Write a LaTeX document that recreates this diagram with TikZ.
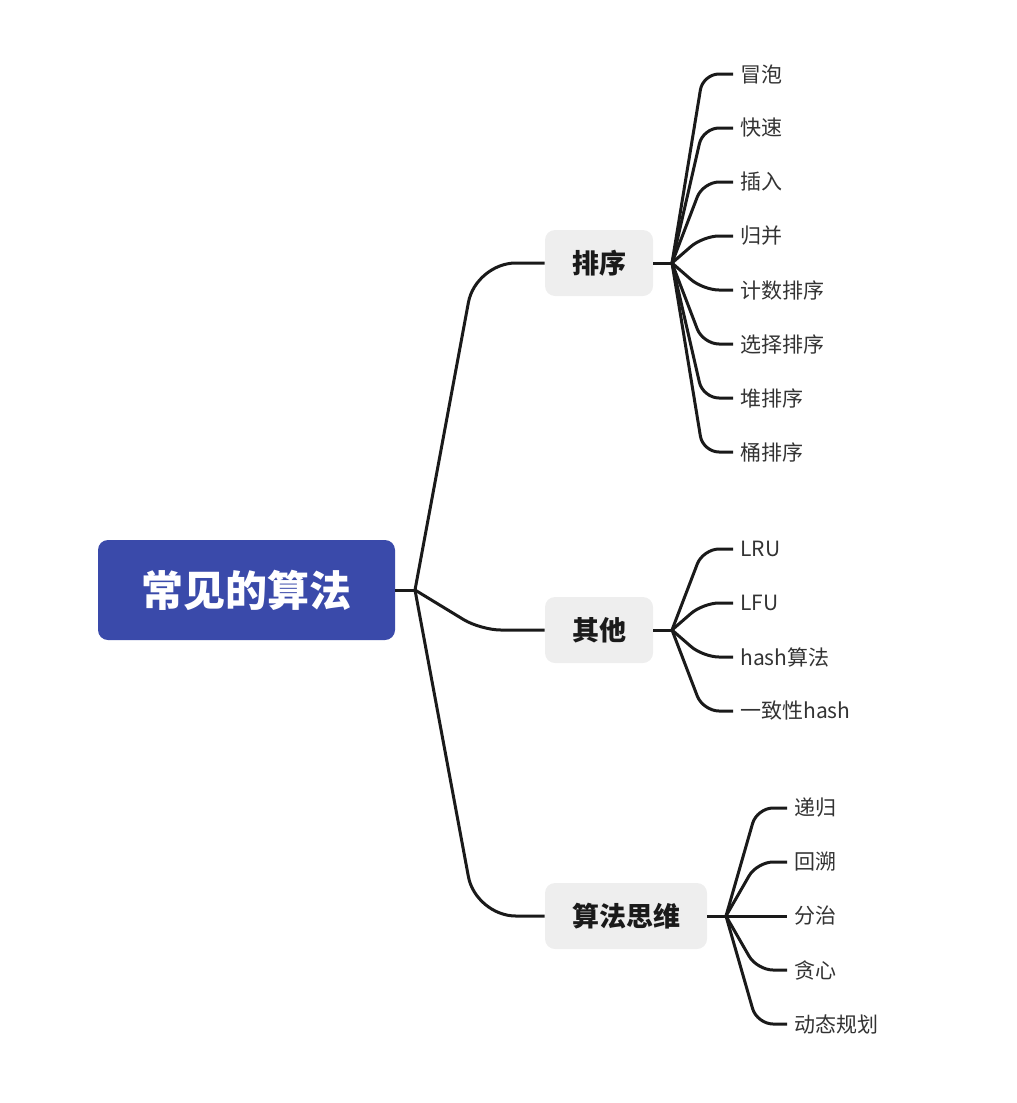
\documentclass[tikz,border=0pt]{standalone}
\usepackage{fontspec}
\newfontfamily\cjk{Noto Sans CJK SC}
\usetikzlibrary{calc}
\definecolor{rootblue}{HTML}{3A4AAA}
\definecolor{boxgray}{HTML}{EEEEEE}
\definecolor{linec}{HTML}{1A1A1A}
\definecolor{leaftext}{HTML}{333333}
\definecolor{topictext}{HTML}{1A1A1A}
\begin{document}
\begin{tikzpicture}[x=0.75pt,y=-0.75pt,
 rootbox/.style={fill=rootblue, rounded corners=7.5pt, minimum width=222.75pt, minimum height=75pt, inner sep=0pt, text=white, font=\cjk\bfseries\fontsize{31.5}{36}\selectfont},
 topic/.style={fill=boxgray, rounded corners=7.5pt, minimum height=49.5pt, inner sep=0pt, text=topictext, font=\cjk\bfseries\fontsize{20.25}{24}\selectfont},
 leaf/.style={anchor=west, inner xsep=5.25pt, inner ysep=0pt, text=leaftext, font=\cjk\fontsize{15.75}{18}\selectfont},
 conn/.style={draw=linec, line width=2.25pt},
 bigbend/.style={conn, rounded corners=30pt},
 smallbend/.style={conn, rounded corners=12pt}
]
\useasboundingbox (0,0) rectangle (1017,1103);

\node[rootbox] (root) at (246.5,590) {常见的算法};
\node[topic, minimum width=81pt] (sort) at (599,263) {排序};
\node[topic, minimum width=81pt] (other) at (599,630) {其他};
\node[topic, minimum width=121.5pt] (think) at (626,916) {算法思维};

\coordinate (j0) at (415,590);
\coordinate (j1) at (672,263);
\coordinate (j2) at (672,630);
\coordinate (j3) at (726,916);

\draw[conn] (root.east) -- (j0);
\draw[bigbend] (j0) -- ($(sort.west)+(-69,0)$) -- (sort.west);
\draw[conn, rounded corners=15pt] (j0) -- ($(other.west)+(-64,0)$) -- (other.west);
\draw[bigbend] (j0) -- ($(think.west)+(-69,0)$) -- (think.west);

\draw[conn] (sort.east) -- (j1);
\draw[conn] (other.east) -- (j2);
\draw[conn] (think.east) -- (j3);

\foreach \t [count=\i] in {冒泡,快速,插入,归并,计数排序,选择排序,堆排序,桶排序}{
  \node[leaf] (s\i) at (733,{20+54*\i}) {\t};
  \draw[smallbend] (j1) -- ($(s\i.west)+(-30,0)$) -- (s\i.west);
}
\foreach \t [count=\i] in {LRU,LFU,hash算法,一致性hash}{
  \node[leaf] (o\i) at (733,{495+54*\i}) {\t};
  \draw[smallbend] (j2) -- ($(o\i.west)+(-30,0)$) -- (o\i.west);
}
\foreach \t [count=\i] in {递归,回溯,分治,贪心,动态规划}{
  \node[leaf] (t\i) at (787,{754+54*\i}) {\t};
  \draw[smallbend] (j3) -- ($(t\i.west)+(-30,0)$) -- (t\i.west);
}
\end{tikzpicture}
\end{document}
